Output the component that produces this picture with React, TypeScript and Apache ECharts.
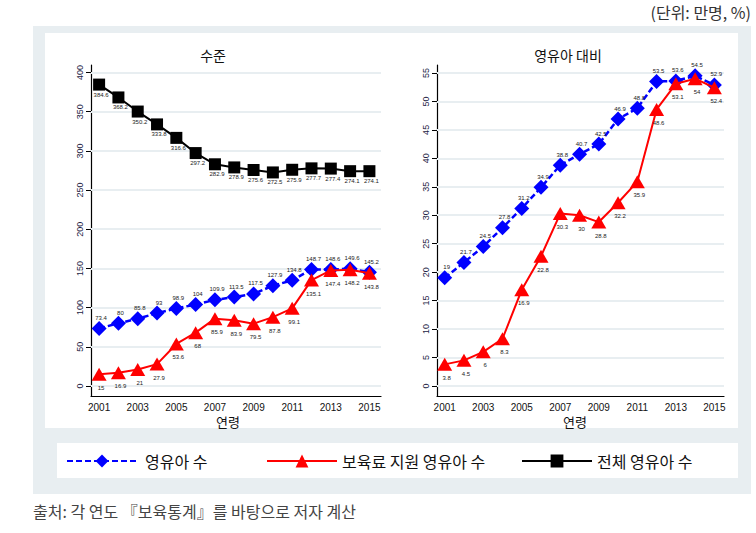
import React, { useEffect, useRef } from "react";
import * as echarts from "echarts";

const years = [2001, 2002, 2003, 2004, 2005, 2006, 2007, 2008, 2009, 2010, 2011, 2012, 2013, 2014, 2015];
const xTickLabels = [2001, 2003, 2005, 2007, 2009, 2011, 2013, 2015];

// 수준 (만명)
const levelInfant = [73.4, 80, 85.8, 93, 98.9, 104, 109.9, 113.5, 117.5, 127.9, 134.8, 148.7, 148.6, 149.6, 145.2];
const levelSupported = [15, 16.9, 21, 27.9, 53.6, 68, 85.9, 83.9, 79.5, 87.8, 99.1, 135.1, 147.4, 148.2, 143.8];
const levelTotal = [384.6, 368.2, 350.2, 333.8, 316.6, 297.2, 282.9, 278.9, 275.6, 272.5, 275.9, 277.7, 277.4, 274.1, 274.1];

// 영유아 대비 (%)
const ratioInfant = [19, 21.7, 24.5, 27.8, 31.2, 34.9, 38.8, 40.7, 42.5, 46.9, 48.8, 53.5, 53.6, 54.5, 52.9];
const ratioSupported = [3.8, 4.5, 6, 8.3, 16.9, 22.8, 30.3, 30, 28.8, 32.2, 35.9, 48.6, 53.1, 54, 52.4];

const leftYTicks = [0, 50, 100, 150, 200, 250, 300, 350, 400];
const rightYTicks = [0, 5, 10, 15, 20, 25, 30, 35, 40, 45, 50, 55];

const nameInfant = "영유아 수";
const nameSupported = "보육료 지원 영유아 수";
const nameTotal = "전체 영유아 수";

const KR = '"Noto Sans CJK KR", sans-serif';
const NUM = '"Liberation Sans", Arial, sans-serif';
const GRAY = "#e8eef1";

const pairs = (vals: number[]) => vals.map((v, i) => [years[i], v]);

export default function App() {
  const ref = useRef<HTMLDivElement>(null);
  useEffect(() => {
    if (!ref.current) return;
    const chart = echarts.init(ref.current, null, { renderer: "svg" });

    const xAxisBase = (gridIndex: number, min: number, max: number) => ({
      type: "value",
      gridIndex,
      min,
      max,
      axisLine: { show: true, onZero: false, lineStyle: { color: "#000", width: 1.2 } },
      axisTick: { show: false },
      splitLine: { show: false },
      axisLabel: {
        customValues: xTickLabels,
        fontFamily: NUM,
        fontSize: 10,
        color: "#111",
        margin: 6,
        formatter: (v: number) => String(v),
      },
    });
    const yAxisBase = (gridIndex: number, min: number, max: number, ticks: number[]) => ({
      type: "value",
      gridIndex,
      min,
      max,
      axisLine: { show: true, onZero: false, lineStyle: { color: "#000", width: 1.2 } },
      axisTick: { show: true, customValues: ticks, length: 5, lineStyle: { color: "#000" } },
      splitLine: { show: false },
      axisLabel: {
        customValues: ticks,
        rotate: 90,
        fontFamily: NUM,
        fontSize: 9,
        color: "#222244",
        margin: 7,
      },
    });

    const gridLines = (xi: number, ticks: number[]) => ({
      type: "line",
      xAxisIndex: xi,
      yAxisIndex: xi,
      data: [],
      z: 1,
      silent: true,
      markLine: {
        z: 1,
        silent: true,
        symbol: ["none", "none"],
        label: { show: false },
        lineStyle: { color: GRAY, width: 2, type: "solid" },
        data: ticks.map((t) => ({ yAxis: t })),
      },
    });

    const lbl = (pos: string, distance: number) => ({
      show: true,
      position: pos,
      distance,
      offset: [2, 0],
      fontFamily: NUM,
      fontSize: 6,
      color: "#222",
      textBorderWidth: 0,
      textBorderColor: "transparent",
      formatter: (p: any) => String(p.value[1]),
    });

    const infantSeries = (xi: number, vals: number[]) => ({
      name: nameInfant,
      type: "line",
      xAxisIndex: xi,
      yAxisIndex: xi,
      data: pairs(vals),
      symbol: "diamond",
      symbolSize: 15,
      z: 3,
      itemStyle: { color: "#0000ff" },
      lineStyle: { color: "#0000ff", width: 2.5, type: [6, 3] },
      label: lbl("top", 0),
    });
    const supportedSeries = (xi: number, vals: number[]) => ({
      name: nameSupported,
      type: "line",
      xAxisIndex: xi,
      yAxisIndex: xi,
      data: pairs(vals),
      symbol: "triangle",
      symbolSize: [15, 13],
      z: 4,
      itemStyle: { color: "#ff0000" },
      lineStyle: { color: "#ff0000", width: 2 },
      label: lbl("bottom", 4),
    });
    const totalSeries = {
      name: nameTotal,
      type: "line",
      xAxisIndex: 0,
      yAxisIndex: 0,
      data: pairs(levelTotal),
      symbol: "rect",
      symbolSize: 12,
      z: 3,
      itemStyle: { color: "#000" },
      lineStyle: { color: "#000", width: 2 },
      label: lbl("bottom", 1),
    };

    const legendBase = (name: string, left: number, width: number, gap: number) => ({
      data: [name],
      left,
      top: 453,
      padding: 0,
      itemWidth: width,
      itemHeight: 16,
      itemGap: 0,
      selectedMode: false,
      textStyle: { fontFamily: KR, fontSize: 16, color: "#111", padding: [0, 0, 0, gap] },
    });

    chart.setOption({
      animation: false,
      backgroundColor: "#fff",
      graphic: [
        { type: "rect", z: -10, shape: { x: 33, y: 26, width: 718, height: 468 }, style: { fill: GRAY } },
        { type: "rect", z: -9, shape: { x: 45, y: 33, width: 693, height: 395 }, style: { fill: "#fff" } },
        { type: "rect", z: -9, shape: { x: 57, y: 443, width: 681, height: 35 }, style: { fill: "#fff" } },
        {
          type: "text", x: 751, y: 12,
          style: { text: "(단위: 만명, %)", font: `16px ${KR}`, fill: "#333", textAlign: "right", textVerticalAlign: "middle" },
        },
        {
          type: "text", x: 213, y: 55,
          style: { text: "수준", font: `14px ${KR}`, fill: "#111", textAlign: "center", textVerticalAlign: "middle" },
        },
        {
          type: "text", x: 568, y: 55,
          style: { text: "영유아 대비", font: `14px ${KR}`, fill: "#111", textAlign: "center", textVerticalAlign: "middle" },
        },
        {
          type: "text", x: 228, y: 421,
          style: { text: "연령", font: `13px ${KR}`, fill: "#111", textAlign: "center", textVerticalAlign: "middle" },
        },
        {
          type: "text", x: 575, y: 421,
          style: { text: "연령", font: `13px ${KR}`, fill: "#111", textAlign: "center", textVerticalAlign: "middle" },
        },
        {
          type: "text", x: 33, y: 511,
          style: { text: "출처: 각 연도 『보육통계』를 바탕으로 저자 계산", font: `16px ${KR}`, fill: "#444", textVerticalAlign: "middle" },
        },
      ],
      legend: [
        legendBase(nameInfant, 66, 70, 3),
        legendBase(nameSupported, 266, 70, 0),
        legendBase(nameTotal, 521, 70, 0),
      ],
      grid: [
        { left: 91, top: 65, width: 290, height: 331 },
        { left: 437, top: 65, width: 287, height: 331 },
      ],
      xAxis: [xAxisBase(0, 2000.58, 2015.6), xAxisBase(1, 2000.6, 2015.5)],
      yAxis: [yAxisBase(0, -12.8, 409.6, leftYTicks), yAxisBase(1, -1.76, 56.4, rightYTicks)],
      series: [
        gridLines(0, leftYTicks),
        gridLines(1, rightYTicks),
        totalSeries,
        infantSeries(0, levelInfant),
        supportedSeries(0, levelSupported),
        infantSeries(1, ratioInfant),
        supportedSeries(1, ratioSupported),
      ],
    });
    return () => chart.dispose();
  }, []);
  return (
    <div
      ref={ref}
      style={{ position: "absolute", left: 0, top: 0, width: 756, height: 533 }}
    />
  );
}
